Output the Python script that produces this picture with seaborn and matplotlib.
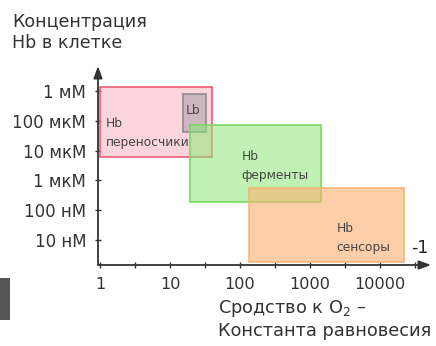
import matplotlib
matplotlib.use("Agg")
import matplotlib.pyplot as plt
import seaborn as sns
import pandas as pd
from matplotlib.patches import Rectangle

# ---- data ----
box_labels = ["Hb\nпереносчики", "Lb", "Hb\nферменты", "Hb\nсенсоры"]
x_lo = [1.0, 15.4, 19.3, 134]
x_hi = [40, 33, 1440, 22000]
y_lo = [6e-6, 4.2e-5, 1.9e-7, 1.8e-9]
y_hi = [1.36e-3, 0.8e-3, 7.2e-5, 5.5e-7]

x_ticks = [1, 10, 100, 1000, 10000]
x_ticklabels = ["1", "10", "100", "1000", "10000"]
y_ticks = [1e-3, 1e-4, 1e-5, 1e-6, 1e-7, 1e-8]
y_ticklabels = ["1 мМ", "100 мкМ", "10 мкМ", "1 мкМ", "100 нМ", "10 нМ"]

y_title = "Концентрация\nHb в клетке"
x_title = "Сродство к O$_2$ –\nКонстанта равновесия"

df = pd.DataFrame({"label": box_labels, "x_lo": x_lo, "x_hi": x_hi,
                   "y_lo": y_lo, "y_hi": y_hi})

# ---- style ----
sns.set_theme(style="white")
plt.rcParams["font.family"] = ["DejaVu Sans"]
plt.rcParams["mathtext.fontset"] = "dejavusans"

face = ["#fbb3c0", "#a8a0a8", "#8ee878", "#fcb070"]
edge = ["#e8506a", "#8a8490", "#70d858", "#f5b070"]
alphas = [0.55, 0.55, 0.55, 0.6]
text_pos = [(1.22, 3.9e-5), (16.6, 2.3e-4), (105, 3.0e-6), (2400, 1.2e-8)]

fig = plt.figure(figsize=(4.36, 3.46), dpi=100)
ax = fig.add_axes([98 / 436, 1 - 265 / 346, (431 - 98) / 436, (265 - 66) / 346])
ax.set_xscale("log")
ax.set_yscale("log")
ax.set_xlim(10 ** (-2 / 70), 10 ** (331 / 70))
ax.set_ylim(10 ** (-3 - 174 / 29.8), 10 ** (-3 + 25 / 29.8))

for i, r in df.iterrows():
    ax.add_patch(Rectangle((r.x_lo, r.y_lo), r.x_hi - r.x_lo, r.y_hi - r.y_lo,
                           facecolor=face[i], alpha=alphas[i], edgecolor="none", zorder=2 + i))
    ax.add_patch(Rectangle((r.x_lo, r.y_lo), r.x_hi - r.x_lo, r.y_hi - r.y_lo,
                           facecolor="none", edgecolor=edge[i], lw=1.2, alpha=0.9, zorder=2 + i))
    ax.text(text_pos[i][0], text_pos[i][1], r.label, fontsize=8.8,
            color="#444444", va="center", ha="left", zorder=10, linespacing=1.6)

ax.text(10 ** (311 / 70), 10 ** (-3 - 157 / 29.8), "-1", fontsize=12.5, color="#222222",
        ha="left", va="center")

for s in ax.spines.values():
    s.set_visible(False)
ax.annotate("", xy=(0, 1), xytext=(0, 0), xycoords="axes fraction",
            arrowprops=dict(arrowstyle="-|>,head_length=0.6,head_width=0.22",
                            color="#333333", lw=1.3, shrinkA=0, shrinkB=0))
ax.annotate("", xy=(1, 0), xytext=(0, 0), xycoords="axes fraction",
            arrowprops=dict(arrowstyle="-|>,head_length=0.6,head_width=0.22",
                            color="#333333", lw=1.3, shrinkA=0, shrinkB=0))

ax.set_yticks(y_ticks)
ax.set_yticklabels(y_ticklabels)
ax.yaxis.set_minor_locator(matplotlib.ticker.NullLocator())
ax.set_xticks(x_ticks)
ax.set_xticklabels(x_ticklabels)
ax.set_xticks([10 ** (k + 0.5) for k in range(0, 5)], minor=True)
ax.tick_params(axis="both", which="both", direction="inout", length=5, width=1,
               color="#333333", labelcolor="#333333", left=True, bottom=True)
ax.tick_params(axis="y", labelsize=12, pad=6)
ax.tick_params(axis="x", labelsize=11.6, pad=6)

fig.text(12 / 436, 1 - 13 / 346, y_title, fontsize=12.6, color="#333333",
         ha="left", va="top", linespacing=1.25)
fig.text(218 / 436, 1 - 298 / 346, x_title, fontsize=12.8, color="#333333",
         ha="left", va="top", linespacing=1.2)

fig.patches.append(Rectangle((0, 1 - 320 / 346), 10 / 436, 42 / 346,
                             transform=fig.transFigure, facecolor="#555555",
                             edgecolor="none", figure=fig))

fig.savefig("out.png", dpi=100)
